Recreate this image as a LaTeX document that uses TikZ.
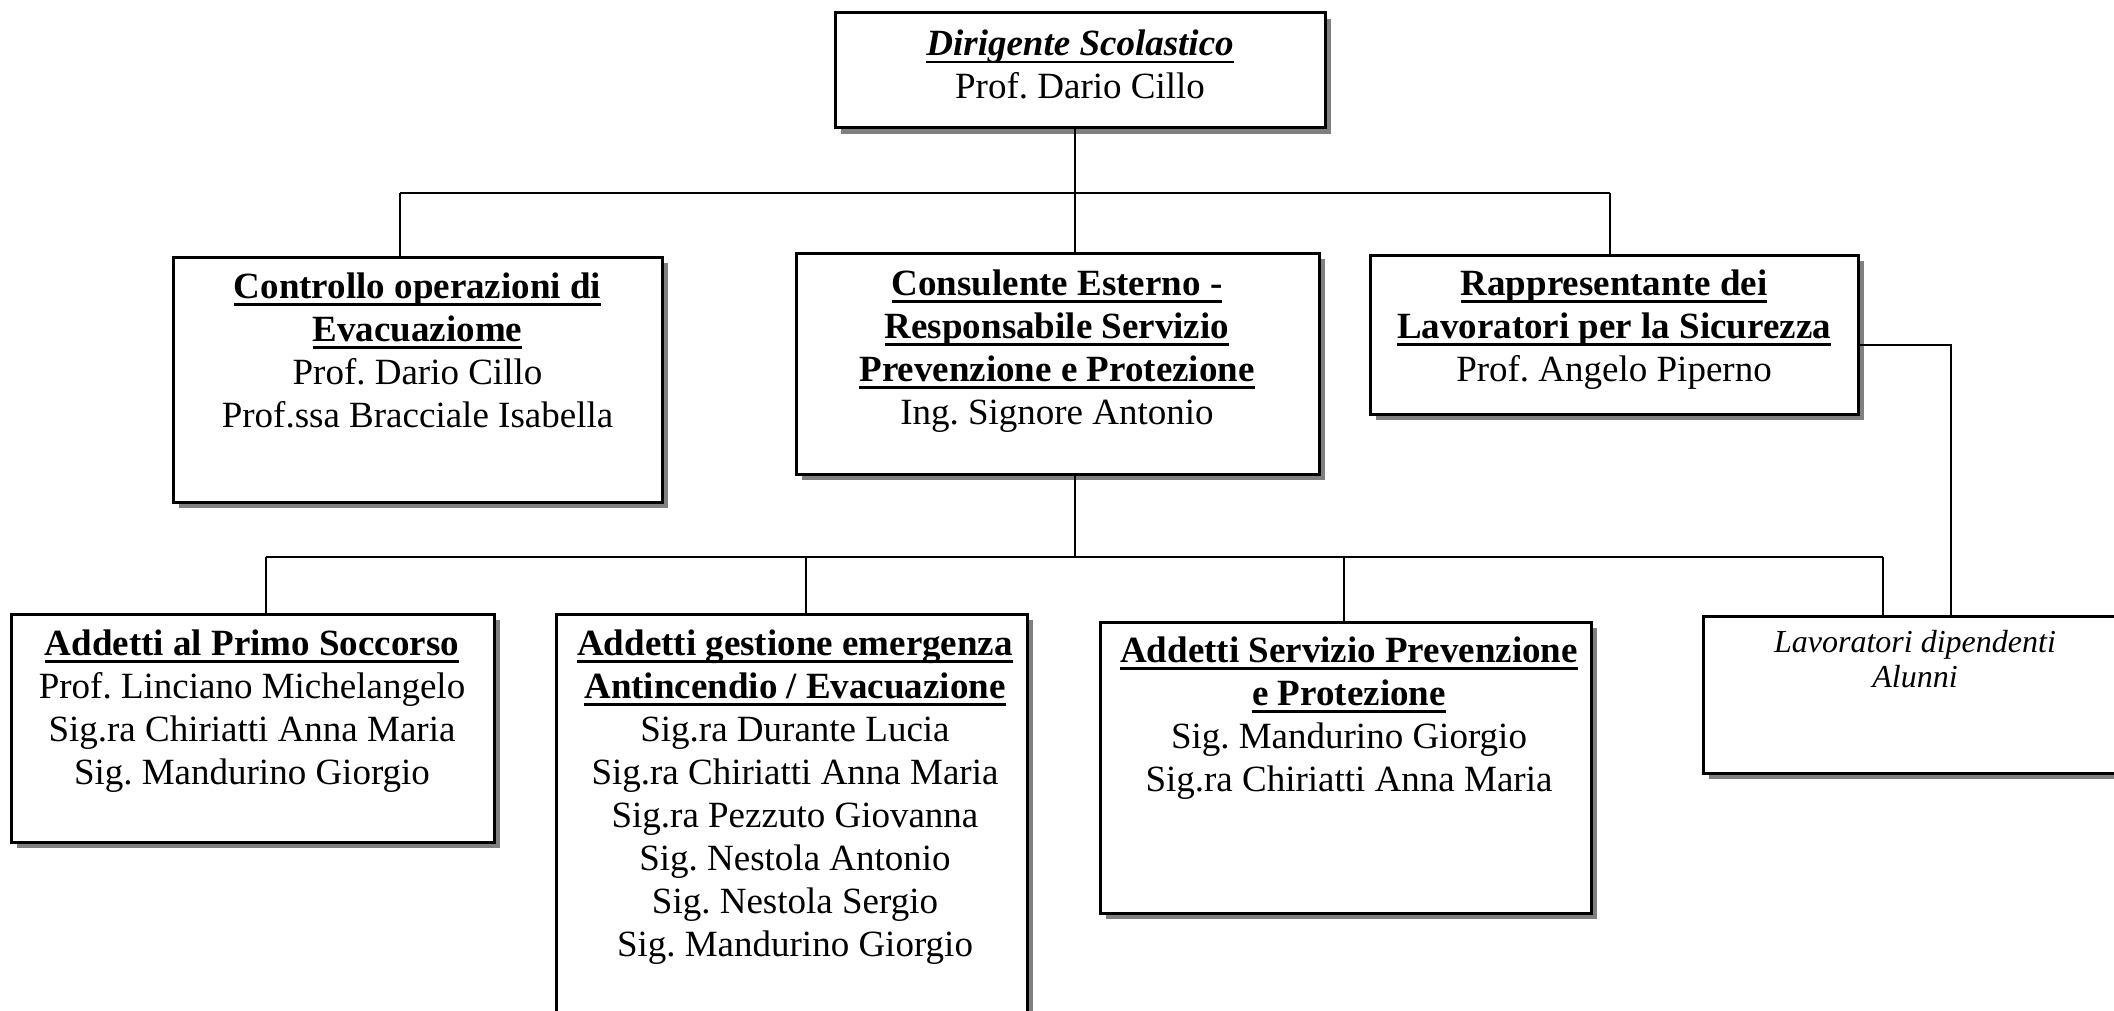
\documentclass[tikz,border=0pt]{standalone}
\usepackage{fontspec}
\setmainfont{Liberation Serif}
\usetikzlibrary{shadows}
\frenchspacing
\newsavebox\ulbox
\newcommand\ulh[1]{\sbox\ulbox{#1}\rlap{\rule[-7.5pt]{\wd\ulbox}{2.5pt}}\usebox\ulbox}
\begin{document}
\frenchspacing
\begin{tikzpicture}[x=1pt,y=-1pt,
  box/.style={draw, line width=3pt, fill=white, inner sep=0pt, outer sep=0pt, anchor=north west,
    drop shadow={shadow xshift=6pt, shadow yshift=-6pt, fill=black!50, opacity=1}},
  conn/.style={line width=2.8pt},
  txt/.style={anchor=north, align=center, inner sep=0pt, outer sep=0pt,
    font=\fontsize{37}{43}\selectfont\frenchspacing, yshift=30.1pt},
  ltxt/.style={anchor=north, align=center, inner sep=0pt, outer sep=0pt,
    font=\fontsize{32}{35}\selectfont\itshape\frenchspacing, yshift=24.5pt}]
\useasboundingbox (0,0) rectangle (2114,1011);
\fill[white] (0,0) rectangle (2114,1011);
\clip (0,0) rectangle (2114,1011);
% boxes
\node[box, minimum width=490pt, minimum height=115pt] (dir) at (835,13) {};
\node[box, minimum width=489pt, minimum height=245pt] (ctl) at (173,257) {};
\node[box, minimum width=523pt, minimum height=221pt] (con) at (796,253) {};
\node[box, minimum width=488pt, minimum height=159pt] (rap) at (1370,255) {};
\node[box, minimum width=483pt, minimum height=228pt] (pso) at (11,614) {};
\node[box, minimum width=471pt, minimum height=440pt] (gem) at (556,614) {};
\node[box, minimum width=491pt, minimum height=291pt] (asp) at (1100,622) {};
\node[box, minimum width=424pt, minimum height=157pt] (lav) at (1703,616) {};
% bus coordinates
\coordinate (b1) at (400,193);
\coordinate (b2) at (1075,193);
\coordinate (b3) at (1610,193);
\coordinate (c1) at (266,557);
\coordinate (c2) at (806,557);
\coordinate (c3) at (1075,557);
\coordinate (c4) at (1344,557);
\coordinate (c5) at (1883,557);
\coordinate (r1) at (1951,345);
% connectors
\draw[conn] (b2 |- dir.south) -- (b2 |- con.north);
\draw[conn] (b1) -- (b3);
\draw[conn] (b1) -- (b1 |- ctl.north);
\draw[conn] (b3) -- (b3 |- rap.north);
\draw[conn] (c3 |- con.south) -- (c3);
\draw[conn] (c1) -- (c5);
\draw[conn] (c1) -- (c1 |- pso.north);
\draw[conn] (c2) -- (c2 |- gem.north);
\draw[conn] (c4) -- (c4 |- asp.north);
\draw[conn] (c5) -- (c5 |- lav.north);
\draw[conn] (rap.east |- r1) -- (r1) -- (r1 |- lav.north);
% texts
\node[txt] (dirt) at (1080,56) {\strut\ulh{\bfseries\itshape Dirigente Scolastico}\\Prof. Dario Cillo};
\node[txt] (ctlt) at (417.5,298) {\strut\ulh{\bfseries Controllo operazioni di}\\\ulh{\bfseries Evacuaziome}\\Prof. Dario Cillo\\Prof.ssa Bracciale Isabella};
\node[txt] (cont) at (1057,295) {\strut\ulh{\bfseries Consulente Esterno -}\\\ulh{\bfseries Responsabile Servizio}\\\ulh{\bfseries Prevenzione e Protezione}\\Ing. Signore Antonio};
\node[txt] (rapt) at (1614,295) {\strut\ulh{\bfseries Rappresentante dei}\\\ulh{\bfseries Lavoratori per la Sicurezza}\\Prof. Angelo Piperno};
\node[txt] (psot) at (252,655) {\strut\ulh{\bfseries Addetti al Primo Soccorso}\\Prof. Linciano Michelangelo\\Sig.ra Chiriatti Anna Maria\\Sig. Mandurino Giorgio};
\node[txt] (gemt) at (795,655) {\strut\ulh{\bfseries Addetti gestione emergenza}\\\ulh{\bfseries Antincendio / Evacuazione}\\Sig.ra Durante Lucia\\Sig.ra Chiriatti Anna Maria\\Sig.ra Pezzuto Giovanna\\Sig. Nestola Antonio\\Sig. Nestola Sergio\\Sig. Mandurino Giorgio};
\node[txt] (aspt) at (1349,662) {\strut\ulh{\bfseries Addetti Servizio Prevenzione}\\\ulh{\bfseries e Protezione}\\Sig. Mandurino Giorgio\\Sig.ra Chiriatti Anna Maria};
\node[ltxt] (lavt) at (1915,652) {\strut Lavoratori dipendenti\\Alunni};
\end{tikzpicture}
\end{document}
